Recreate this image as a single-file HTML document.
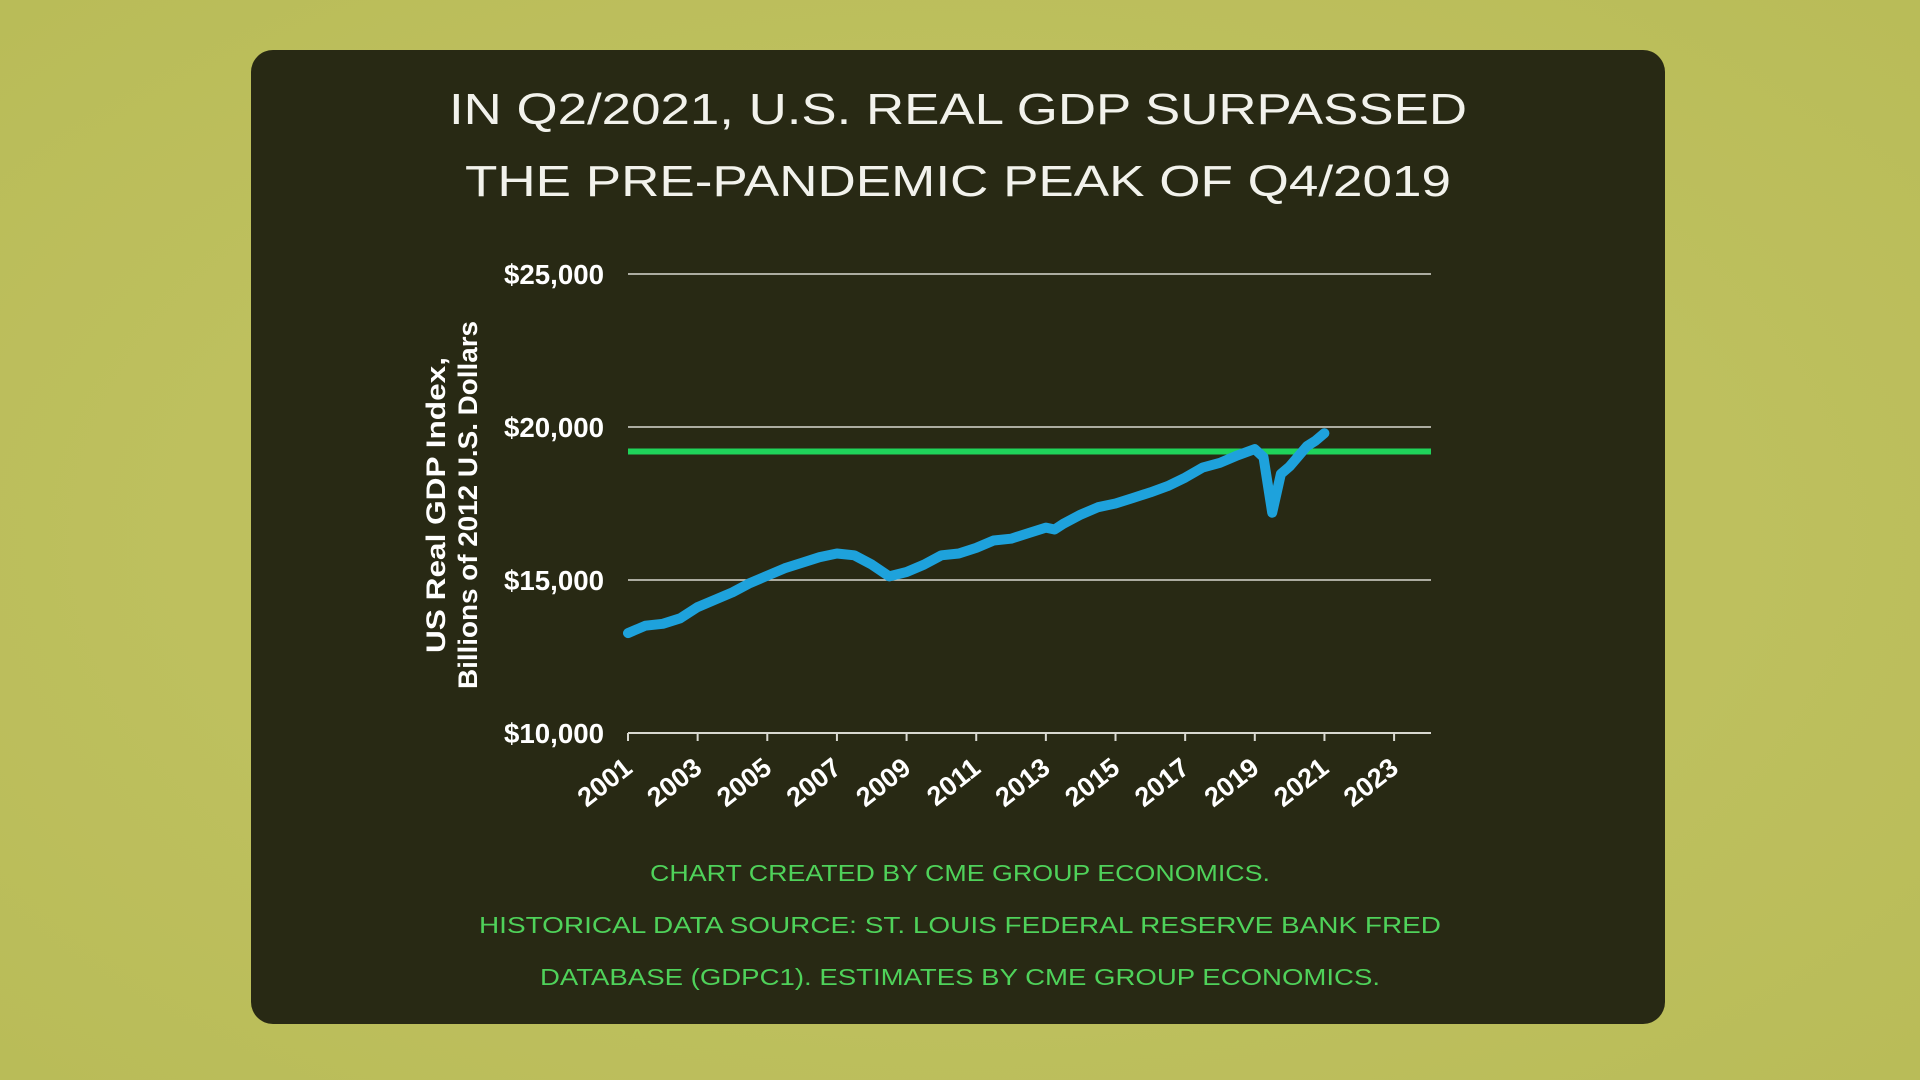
<!DOCTYPE html>
<html><head><meta charset="utf-8"><style>
html,body{margin:0;padding:0;width:1920px;height:1080px;overflow:hidden;background:#bec05e;}
svg{display:block}
</style></head><body>
<svg id="chart" width="1920" height="1080" viewBox="0 0 1920 1080">
<defs><radialGradient id="bg" cx="50%" cy="50%" r="70%"><stop offset="0" stop-color="#c4c566"/><stop offset="1" stop-color="#b9bc58"/></radialGradient></defs>
<rect width="1920" height="1080" fill="url(#bg)"/>
<rect x="251" y="50" width="1414" height="974" rx="22" fill="#282914"/>
<g font-family="'Liberation Sans', sans-serif" fill="#f2f2ec" font-size="44" text-anchor="middle">
<text x="958" y="124" textLength="1018" lengthAdjust="spacingAndGlyphs">IN Q2/2021, U.S. REAL GDP SURPASSED</text>
<text x="958" y="196" textLength="986" lengthAdjust="spacingAndGlyphs">THE PRE-PANDEMIC PEAK OF Q4/2019</text>
</g>
<g id="grid"></g>
<g id="series"></g>
<g font-family="'Liberation Sans', sans-serif" font-weight="bold" fill="#ffffff" font-size="27" text-anchor="middle">
<text transform="translate(445,505) rotate(-90)" textLength="296" lengthAdjust="spacingAndGlyphs">US Real GDP Index,</text>
<text transform="translate(477,505) rotate(-90)" textLength="368" lengthAdjust="spacingAndGlyphs">Billions of 2012 U.S. Dollars</text>
</g>
<g font-family="'Liberation Sans', sans-serif" fill="#4fd25a" font-size="23" text-anchor="middle">
<text x="960" y="881" textLength="620" lengthAdjust="spacingAndGlyphs">CHART CREATED BY CME GROUP ECONOMICS.</text>
<text x="960" y="933" textLength="962" lengthAdjust="spacingAndGlyphs">HISTORICAL DATA SOURCE:  ST. LOUIS FEDERAL RESERVE BANK FRED</text>
<text x="960" y="985" textLength="840" lengthAdjust="spacingAndGlyphs">DATABASE (GDPC1).  ESTIMATES BY CME GROUP ECONOMICS.</text>
</g>
</svg>
<script>
const years = [2001,2001.5,2002,2002.5,2003,2003.5,2004,2004.5,2005,2005.5,2006,2006.5,2007,2007.5,2008,2008.5,2009,2009.5,2010,2010.5,2011,2011.5,2012,2012.5,2013,2013.25,2013.5,2014,2014.5,2015,2015.5,2016,2016.5,2017,2017.5,2018,2018.5,2019,2019.25,2019.5,2019.75,2020,2020.5,2020.75,2021];
const gdp = [13266,13508,13569,13750,14113,14355,14597,14899,15141,15383,15565,15746,15867,15806,15504,15117,15262,15504,15806,15867,16048,16290,16351,16532,16714,16650,16835,17137,17379,17500,17681,17863,18068,18347,18673,18831,19073,19278,19012,17198,18468,18710,19375,19556,19798];
const peakValue = [19200];
const yTicks = [10000,15000,20000,25000];
const yTickLabels = ['$10,000','$15,000','$20,000','$25,000'];
const xTicks = [2001,2003,2005,2007,2009,2011,2013,2015,2017,2019,2021,2023];
const xTickLabels = ['2001','2003','2005','2007','2009','2011','2013','2015','2017','2019','2021','2023'];

const NS='http://www.w3.org/2000/svg';
const X0=628,X1=1431,Y0=733,Y1=274;
const xMin=2001,xMax=2024.06,yMin=10000,yMax=25000;
const xs=v=>X0+(v-xMin)/(xMax-xMin)*(X1-X0);
const ys=v=>Y0-(v-yMin)/(yMax-yMin)*(Y0-Y1);
function mk(tag,attrs,parent){const e=document.createElementNS(NS,tag);for(const k in attrs)e.setAttribute(k,attrs[k]);parent.appendChild(e);return e;}
const grid=document.getElementById('grid'),series=document.getElementById('series');


yTicks.forEach((t,i)=>{
  const l=mk('line',{x1:X0,x2:X1,y1:ys(t),y2:ys(t),stroke:'#d8d8d0','stroke-width':t===yMin?2:1.6},grid);
  
  
  const tx=mk('text',{x:604,y:ys(t)+10,'text-anchor':'end','font-family':"'Liberation Sans', sans-serif",'font-weight':'bold','font-size':28,fill:'#fff',textLength:100,lengthAdjust:'spacingAndGlyphs'},grid);
  tx.textContent=yTickLabels[i];
  
  
});
xTicks.forEach((t,i)=>{
  const x=xs(t);
  const tk=mk('line',{x1:x,x2:x,y1:Y0,y2:Y0+8,stroke:'#d8d8d0','stroke-width':2},grid);
  
  
  const tx=mk('text',{transform:`translate(${x+6},${Y0+38}) rotate(-38)`,'text-anchor':'end','font-family':"'Liberation Sans', sans-serif",'font-weight':'bold','font-size':27,fill:'#fff'},grid);
  tx.textContent=xTickLabels[i];
  
  
});
const pk=mk('line',{x1:X0,x2:X1,y1:ys(peakValue[0]),y2:ys(peakValue[0]),stroke:'#1fd35a','stroke-width':6},series);


const d=years.map((y,i)=>(i?'L':'M')+xs(y).toFixed(1)+','+ys(gdp[i]).toFixed(1)).join(' ');
const p=mk('path',{d:d,fill:'none',stroke:'#1ea2dc','stroke-width':10,'stroke-linejoin':'round','stroke-linecap':'round'},series);


</script>
</body></html>
